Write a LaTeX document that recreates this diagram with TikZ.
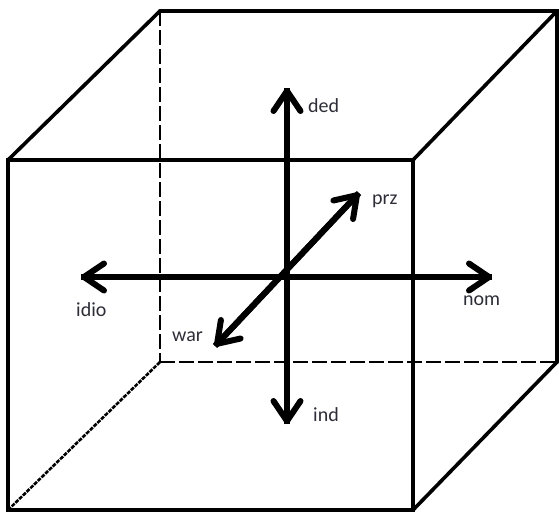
\documentclass[tikz,border=0pt]{standalone}
\usepackage{fontspec}
\setmainfont{Carlito}
\usetikzlibrary{arrows.meta}
\definecolor{txt}{RGB}{45,45,55}
\tikzset{
  edge/.style={line width=3.6pt, line cap=round, line join=miter},
  hidden/.style={line width=2.6pt, dash pattern=on 15pt off 4pt},
  hiddendiag/.style={line width=2.6pt, dash pattern=on 4pt off 1.2pt},
  axis/.style={line width=6pt, -{Straight Barb[length=20pt,width=27pt,line width=6pt,round]}},
  lbl/.style={font=\fontsize{20}{22}\selectfont, text=txt, inner sep=0pt}
}
\begin{document}
\begin{tikzpicture}[x=1pt,y=-1pt]
\useasboundingbox (0,0) rectangle (559,512);
% cube corners
\coordinate (F1) at (8,160);
\coordinate (F2) at (413,160);
\coordinate (F3) at (413,510);
\coordinate (F4) at (8,510);
\coordinate (B1) at (160,11);
\coordinate (B2) at (557,11);
\coordinate (B3) at (557,362);
\coordinate (B4) at (160,362);
% hidden edges
\draw[hidden] (B1) -- (B4);
\draw[hidden] (B4) -- (B3);
\draw[hiddendiag] (F4) -- (B4);
% visible edges
\draw[edge] (B1) -- (B2) -- (B3);
\draw[edge] (F1) -- (B1);
\draw[edge] (F2) -- (B2);
\draw[edge] (F3) -- (B3);
\draw[edge] (F1) -- (F2) -- (F3) -- (F4) -- cycle;
% axes
\coordinate (Top) at (287,88);
\coordinate (Bot) at (287,424);
\coordinate (Lft) at (81,277);
\coordinate (Rgt) at (492,277);
\coordinate (DA) at (215,346);
\coordinate (DB) at (359,193);
\draw[axis] (Bot) -- (Top);
\draw[axis] (Top) -- (Bot);
\draw[axis] (Rgt) -- (Lft);
\draw[axis] (Lft) -- (Rgt);
\draw[axis] (DB) -- (DA);
\draw[axis] (DA) -- (DB);
% labels
\node[lbl, anchor=west] (ded) at (308,106) {ded};
\node[lbl, anchor=west] (prz) at (372,201) {prz};
\node[lbl, anchor=west] (idio) at (76,310) {idio};
\node[lbl, anchor=west] (war) at (172,337) {war};
\node[lbl, anchor=west] (nom) at (463,301) {nom};
\node[lbl, anchor=west] (ind) at (313,415) {ind};
\end{tikzpicture}
\end{document}
